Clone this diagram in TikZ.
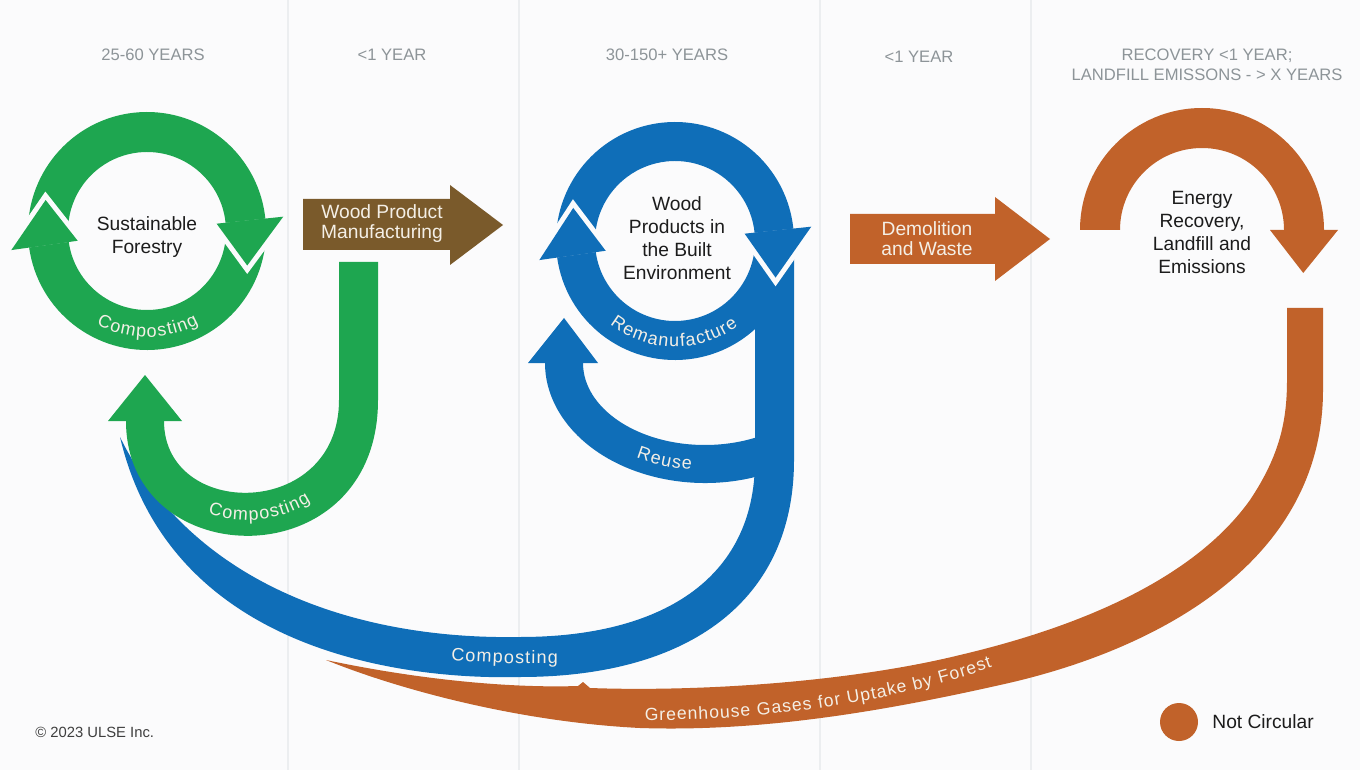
\documentclass[tikz,border=0pt]{standalone}
\usepackage{fontspec}
\setmainfont{Liberation Sans}
\usetikzlibrary{decorations.text}
\definecolor{bg}{HTML}{FBFBFC}
\definecolor{sep}{HTML}{ECEEF0}
\definecolor{gr}{HTML}{1EA650}
\definecolor{bl}{HTML}{0F6EB8}
\definecolor{orng}{HTML}{C1622A}
\definecolor{brn}{HTML}{7A5A2B}
\definecolor{lt}{HTML}{F4EFE6}
\definecolor{hdr}{HTML}{8D9498}
\definecolor{ink}{HTML}{1C1C1C}
\newcommand\mainfs{\fontsize{9.6}{11.5}\selectfont}
\newcommand\curvefs{\fontsize{9}{11}\selectfont\kern0.6pt}
\newcommand\longfs{\fontsize{8.8}{11}\selectfont\kern0.5pt}
\begin{document}
\begin{tikzpicture}[x=0.5pt,y=-0.5pt,
  gapcut/.style={draw=bg,line width=5pt,line join=miter},
  hdrtext/.style={text=hdr,font=\fontsize{8.3}{10}\selectfont,inner sep=0pt,align=center},
  lbl/.style={text=ink,font=\mainfs,align=center,inner sep=0pt},
  arrlbl/.style={text=lt,font=\fontsize{9.6}{10}\selectfont,align=center,inner sep=0pt},
  curved/.style={decorate,decoration={text along path,text align=center,text color=lt,text={|\curvefs|#1}}},
  curvedlong/.style={decorate,decoration={text along path,text align=center,text color=lt,text={|\longfs|#1}}}]
\useasboundingbox (0,0) rectangle (1360,770);
\fill[bg] (0,0) rectangle (1360,770);
\foreach \sx in {288,519,820,1031} \draw[sep,line width=1pt] (\sx,0) -- (\sx,770);

% headers
\node[hdrtext] (h1) at (153,55) {25-60 YEARS};
\node[hdrtext] (h2) at (392,55) {<1 YEAR};
\node[hdrtext] (h3) at (667,55) {30-150+ YEARS};
\node[hdrtext] (h4) at (919,57) {<1 YEAR};
\node[hdrtext] (h5) at (1207,65) {RECOVERY <1 YEAR;\\LANDFILL EMISSONS - > X YEARS};

% orange not-circular swoop
\fill[orng] (1287,308) -- (1323,308) -- (1323,390) .. controls (1323,560) and (1160,650) .. (1000,685)
  .. controls (880,712) and (760,732) .. (640,728) .. controls (520,722) and (400,690) .. (326,660)
  .. controls (430,682) and (520,688) .. (578,686) -- (583,682) -- (590,688)
  .. controls (700,692) and (850,682) .. (960,655) .. controls (1100,622) and (1200,570) .. (1250,500)
  .. controls (1280,455) and (1287,420) .. (1287,380) -- cycle;
\path[curvedlong=Greenhouse Gases for Uptake by Forest] (628,720) .. controls (742,722) and (882,708) .. (1007,662);

% energy recovery arc
\begin{scope}[shift={(1202,230)}]
\fill[orng] (180:122) arc[start angle=180,end angle=360,radius=122] -- (0:82) arc[start angle=360,end angle=180,radius=82] -- cycle;
\fill[orng] (0:136) -- (23:110) -- (0:68) -- cycle;
\end{scope}
\node[lbl] (er) at (1202,232) {Energy\\Recovery,\\Landfill and\\Emissions};

% demolition arrow
\fill[orng] (850,214) -- (995,214) -- (995,197) -- (1050,239) -- (995,281) -- (995,264) -- (850,264) -- cycle;
\node[arrlbl] (dw) at (927,239) {Demolition\\and Waste};

% wood product manufacturing arrow
\fill[brn] (303,199) -- (450,199) -- (450,185) -- (503,225) -- (450,265) -- (450,250) -- (303,250) -- cycle;
\node[arrlbl] (wpm) at (382,224) {Wood Product\\Manufacturing};

% blue system
\begin{scope}[shift={(675,241)}]
\fill[bl] (172:119) arc[start angle=172,end angle=354,radius=119] -- (354:80) arc[start angle=354,end angle=172,radius=80] -- cycle;
\fill[bl] (-6:119) arc[start angle=-6,end angle=172,radius=119] -- (172:80) arc[start angle=172,end angle=-6,radius=80] -- cycle;
\end{scope}
\fill[bl] (755,241) -- (794,241) -- (794,460) .. controls (794,600) and (690,677) .. (520,677)
  .. controls (400,680) and (170,650) .. (120,437) .. controls (190,580) and (350,640) .. (520,637)
  .. controls (660,637) and (755,580) .. (755,460) -- cycle;
\begin{scope}[shift={(705,363)}]
\fill[bl] (60:160 and 120) arc[start angle=60,end angle=180,x radius=160,y radius=120] -- (180:122 and 82) arc[start angle=180,end angle=60,x radius=122,y radius=82] -- cycle;
\end{scope}
\fill[bl] (528,363) -- (564,318) -- (598,363) -- cycle;
\begin{scope}[shift={(675,241)}]
\draw[gapcut] (354:137) -- (20:107) -- (354:70);
\draw[gapcut] (172:137) -- (198:107) -- (172:70);
\fill[bl] (354:137) -- (20:107) -- (354:70) -- cycle;
\fill[bl] (172:137) -- (198:107) -- (172:70) -- cycle;
\path[curved=Remanufacture] (161:106) arc[start angle=161,end angle=21,radius=106];
\end{scope}
\begin{scope}[shift={(705,363)}]
\path[curved=Reuse] (154:147 and 107) arc[start angle=154,end angle=64,x radius=147,y radius=107];
\end{scope}
\path[curved=Composting] (374,652) .. controls (434,662) and (554,668) .. (634,660);
\node[lbl] (wp) at (677,238) {Wood\\Products in\\the Built\\Environment};

% green U
\fill[gr] (339,262) -- (378,262) -- (378,400) .. controls (378,580) and (126,575) .. (126,421) -- (164,421) .. controls (164,520) and (339,520) .. (339,400) -- cycle;
\fill[gr] (108,421) -- (145,375) -- (182,421) -- cycle;
\path[curved=Composting] (145,421) .. controls (143,555) and (361,558) .. (361,400);

% green ring
\begin{scope}[shift={(147,231)}]
\fill[gr] (172:119) arc[start angle=172,end angle=354,radius=119] -- (354:79) arc[start angle=354,end angle=172,radius=79] -- cycle;
\fill[gr] (-6:119) arc[start angle=-6,end angle=172,radius=119] -- (172:79) arc[start angle=172,end angle=-6,radius=79] -- cycle;
\draw[gapcut] (354:137) -- (19:106) -- (354:70);
\draw[gapcut] (172:137) -- (197:106) -- (172:70);
\fill[gr] (354:137) -- (19:106) -- (354:70) -- cycle;
\fill[gr] (172:137) -- (197:106) -- (172:70) -- cycle;
\path[curved=Composting] (155:106) arc[start angle=155,end angle=25,radius=106];
\end{scope}
\node[lbl] (sf) at (147,237) {Sustainable\\Forestry};

% legend and credit
\fill[orng] (1179,722) circle[radius=19];
\node[lbl,anchor=west] (nc) at (1212,722) {Not Circular};
\node[anchor=west,text=ink!85,font=\fontsize{7.4}{9}\selectfont,inner sep=0pt] (cr) at (35,732) {© 2023 ULSE Inc.};
\end{tikzpicture}
\end{document}
